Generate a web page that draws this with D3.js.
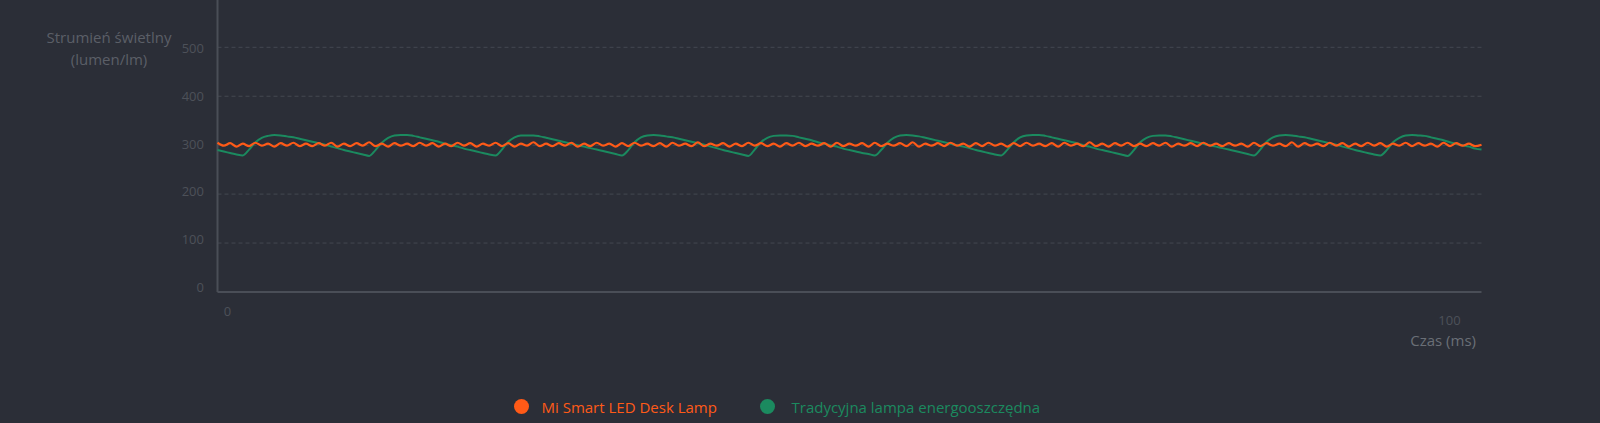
<!DOCTYPE html>
<html><head><meta charset="utf-8">
<script src="https://cdn.jsdelivr.net/npm/d3@7/dist/d3.min.js"></script>
<style>
html,body{margin:0;padding:0;background:#2b2e37;}
svg{display:block;}
text{font-family:"Open Sans",Lato,sans-serif;}
</style></head><body>
<svg id="c" width="1600" height="423"></svg>
<script>
const seriesNames = ["Mi Smart LED Desk Lamp", "Tradycyjna lampa energooszczędna"];
const seriesColors = ["#ff5a17", "#1b8a5f"];
const yTicks = [0, 100, 200, 300, 400, 500];
const xTickLabels = [0, 100];
const timeStep = 0.5; // ms between samples
const ledValues = [
305,299,304,297,303,298,305,299,303,297,304,299,305,298,303,298,304,299,305,297,
303,298,304,299,306,298,303,297,304,299,303,298,305,299,304,297,303,298,305,299,
304,297,303,299,305,298,304,297,303,299,306,298,303,298,304,299,305,297,303,298,
305,299,303,297,304,298,305,299,303,298,304,297,305,299,303,298,306,298,303,299,
304,297,303,298,305,299,304,298,303,297,304,299,305,298,303,299,304,297,305,298,
303,299,304,297,305,298,303,299,304,298,306,297,303,299,304,298,305,299,303,297,
304,298,305,299,303,297,304,298,305,299,303,298,304,297,305,299,303,298,306,298,
303,297,304,299,305,298,303,298,304,299,305,297,303,299,304,298,305,299,303,298,
304,299,303,297,305,298,304,299,303,298,306,297,304,299,303,298,305,299,304,297,
303,298,305,299,304,297,303,299,305,298,304,299,303,297,305,298,304,299,303,298,
301];
const cflValues = [
290,287,284,281,279,291,306,315,319,321,320,318,316,313,310,307,304,301,297,294,
290,287,284,281,278,290,305,315,320,321,321,319,316,313,310,307,303,300,297,293,
290,287,284,281,279,291,307,316,320,320,320,318,315,312,309,306,303,300,297,294,
291,288,285,282,279,290,306,316,320,321,320,318,316,313,310,307,304,301,297,294,
290,287,284,281,278,291,306,315,319,320,320,319,316,313,310,306,303,300,297,293,
290,287,284,282,279,290,305,315,320,321,320,318,315,312,309,306,303,300,297,294,
290,287,284,281,279,291,306,316,320,321,321,319,316,313,310,307,304,300,297,293,
290,287,284,281,278,290,306,315,319,320,320,318,315,312,309,306,303,300,297,294,
291,288,285,282,279,291,307,316,320,321,320,318,316,313,310,307,304,301,297,294,
290,287,284,281,279,290,306,315,320,321,320,319,316,313,310,306,303,300,297,293,
291];

const svg = d3.select("#c");
const x = d3.scaleLinear().domain([0, 100]).range([217.5, 1481.5]);
const y = d3.scaleLinear().domain([0, 500]).range([292, 47.3]);
const yLabel = d3.scaleLinear().domain([0, 500]).range([287, 48]);

// grid
svg.append("g").selectAll("line").data(yTicks.filter(d => d > 0)).join("line")
  .attr("x1", x(0)).attr("x2", x(100))
  .attr("y1", d => y(d)).attr("y2", d => y(d))
  .attr("stroke", "#444851").attr("stroke-width", 1).attr("stroke-dasharray", "4,3");

// y tick labels
svg.append("g").selectAll("text").data(yTicks).join("text")
  .attr("x", 204).attr("y", d => yLabel(d))
  .attr("text-anchor", "end").attr("dominant-baseline", "central")
  .attr("font-size", 13).attr("fill", "#4d5159").text(d => d);

// axes lines
svg.append("line").attr("x1", x(0)).attr("x2", x(0)).attr("y1", 0).attr("y2", y(0))
  .attr("stroke", "#4a4e57").attr("stroke-width", 2);
svg.append("line").attr("x1", x(0)).attr("x2", x(100)).attr("y1", y(0)).attr("y2", y(0))
  .attr("stroke", "#4a4e57").attr("stroke-width", 2);

// x tick labels
svg.append("text").attr("x", x(xTickLabels[0]) + 10).attr("y", 311)
  .attr("text-anchor", "middle").attr("dominant-baseline", "central")
  .attr("font-size", 13).attr("fill", "#4d5159").text(xTickLabels[0]);
svg.append("text").attr("x", x(xTickLabels[1]) - 32).attr("y", 320)
  .attr("text-anchor", "middle").attr("dominant-baseline", "central")
  .attr("font-size", 13).attr("fill", "#4d5159").text(xTickLabels[1]);

// axis titles
svg.append("text").attr("x", 109).attr("y", 37).attr("text-anchor", "middle")
  .attr("dominant-baseline", "central").attr("font-size", 15).attr("fill", "#5b5f67")
  .text("Strumień świetlny");
svg.append("text").attr("x", 109).attr("y", 59).attr("text-anchor", "middle")
  .attr("dominant-baseline", "central").attr("font-size", 15).attr("fill", "#5b5f67")
  .text("(lumen/lm)");
svg.append("text").attr("x", 1476).attr("y", 340).attr("text-anchor", "end")
  .attr("dominant-baseline", "central").attr("font-size", 15).attr("fill", "#6a6e76")
  .text("Czas (ms)");

// lines
const line = d3.line().x((d, i) => x(i * timeStep)).y(d => y(d)).curve(d3.curveMonotoneX);
svg.append("path").datum(cflValues).attr("d", line).attr("fill", "none")
  .attr("stroke", seriesColors[1]).attr("stroke-width", 2);
svg.append("path").datum(ledValues).attr("d", line).attr("fill", "none")
  .attr("stroke", seriesColors[0]).attr("stroke-width", 2.2);

// legend
const legX = [521.5, 767.5];
seriesNames.forEach((n, i) => {
  svg.append("circle").attr("cx", legX[i]).attr("cy", 406.5).attr("r", 7.5).attr("fill", seriesColors[i]);
  svg.append("text").attr("x", legX[i] + 20 + (i ? 4 : 0)).attr("y", 407)
    .attr("dominant-baseline", "central").attr("font-size", 15).attr("fill", seriesColors[i]).text(n);
});
</script>
</body></html>
